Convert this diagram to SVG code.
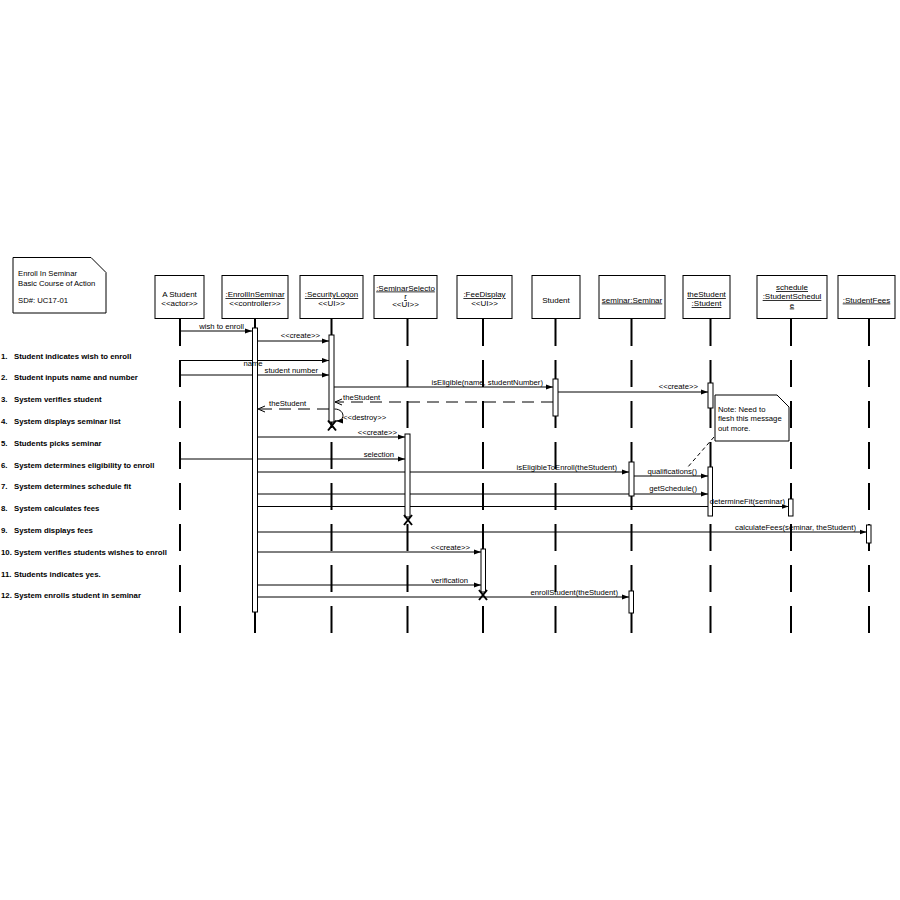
<svg xmlns="http://www.w3.org/2000/svg" width="900" height="900" viewBox="0 0 900 900">
<defs>
<style>
text{font-family:"Liberation Sans",Arial,sans-serif;fill:#000}
.hd{font-size:8px;text-anchor:middle}
.u{text-decoration:underline}
.ml{font-size:7.7px}
.st{font-size:7.8px;font-weight:bold}
.nt{font-size:7.7px}
.box{fill:#fff;stroke:#000;stroke-width:1}
.life{stroke:#000;stroke-width:2;stroke-dasharray:27 14;fill:none}
.act{fill:#fff;stroke:#000;stroke-width:1}
.msg{stroke:#000;stroke-width:1;fill:none;marker-end:url(#arr)}
.ret{stroke:#000;stroke-width:1;fill:none;stroke-dasharray:12 7;marker-end:url(#open)}
.xm{stroke:#000;stroke-width:2}
</style>
<marker id="arr" markerWidth="8" markerHeight="6" refX="7" refY="3" orient="auto" markerUnits="userSpaceOnUse"><path d="M0,0.5 L7,3 L0,5.5 z" fill="#000"/></marker>
<marker id="open" markerWidth="9" markerHeight="8" refX="7" refY="4" orient="auto" markerUnits="userSpaceOnUse"><path d="M0,1 L7,4 L0,7" fill="none" stroke="#000" stroke-width="1"/></marker>
</defs>
<rect width="900" height="900" fill="#fff"/>

<g id="note-title">
<path class="box" d="M13,257.5 H91 L106,272.5 V313 H13 Z"/>
<text class="nt" x="18" y="276">Enroll In Seminar</text>
<text class="nt" x="18" y="286">Basic Course of Action</text>
<text class="nt" x="18" y="303">SD#: UC17-01</text>
</g>

<g id="steps">
<text class="st" x="1" y="358.5">1.</text><text class="st" x="14" y="358.5">Student indicates wish to enroll</text>
<text class="st" x="1" y="380.3">2.</text><text class="st" x="14" y="380.3">Student inputs name and number</text>
<text class="st" x="1" y="402.1">3.</text><text class="st" x="14" y="402.1">System verifies student</text>
<text class="st" x="1" y="423.9">4.</text><text class="st" x="14" y="423.9">System displays seminar list</text>
<text class="st" x="1" y="445.7">5.</text><text class="st" x="14" y="445.7">Students picks seminar</text>
<text class="st" x="1" y="467.5">6.</text><text class="st" x="14" y="467.5">System determines eligibility to enroll</text>
<text class="st" x="1" y="489.3">7.</text><text class="st" x="14" y="489.3">System determines schedule fit</text>
<text class="st" x="1" y="511.1">8.</text><text class="st" x="14" y="511.1">System calculates fees</text>
<text class="st" x="1" y="532.9">9.</text><text class="st" x="14" y="532.9">System displays fees</text>
<text class="st" x="1" y="554.7">10.</text><text class="st" x="14" y="554.7">System verifies students wishes to enroll</text>
<text class="st" x="1" y="576.5">11.</text><text class="st" x="14" y="576.5">Students indicates yes.</text>
<text class="st" x="1" y="598.3">12.</text><text class="st" x="14" y="598.3">System enrolls student in seminar</text>
</g>

<g id="lifelines">
<line class="life" x1="180" y1="319" x2="180" y2="637"/>
<line class="life" x1="255" y1="319" x2="255" y2="637"/>
<line class="life" x1="331.5" y1="319" x2="331.5" y2="637"/>
<line class="life" x1="407.5" y1="319" x2="407.5" y2="637"/>
<line class="life" x1="483" y1="319" x2="483" y2="637"/>
<line class="life" x1="555.5" y1="319" x2="555.5" y2="637"/>
<line class="life" x1="631.5" y1="319" x2="631.5" y2="637"/>
<line class="life" x1="710.5" y1="319" x2="710.5" y2="637"/>
<line class="life" x1="791" y1="319" x2="791" y2="637"/>
<line class="life" x1="869" y1="319" x2="869" y2="637"/>
</g>

<g id="obj-astudent">
<rect class="box" x="155" y="275.5" width="49" height="43"/>
<text class="hd" x="179.5" y="297">A Student</text>
<text class="hd" x="179.5" y="306">&lt;&lt;actor&gt;&gt;</text>
</g>
<g id="obj-enroll">
<rect class="box" x="222" y="275.5" width="66" height="43"/>
<text class="hd u" x="255" y="297">:EnrollInSeminar</text>
<text class="hd" x="255" y="306">&lt;&lt;controller&gt;&gt;</text>
</g>
<g id="obj-security">
<rect class="box" x="300" y="275.5" width="63" height="43"/>
<text class="hd u" x="331.5" y="297">:SecurityLogon</text>
<text class="hd" x="331.5" y="306">&lt;&lt;UI&gt;&gt;</text>
</g>
<g id="obj-semsel">
<rect class="box" x="374" y="275.5" width="63" height="43"/>
<text class="hd u" x="405.5" y="290.5">:SeminarSelecto</text>
<text class="hd u" x="405.5" y="299">r</text>
<text class="hd" x="405.5" y="307">&lt;&lt;UI&gt;&gt;</text>
</g>
<g id="obj-fee">
<rect class="box" x="457" y="275.5" width="55" height="43"/>
<text class="hd u" x="484.5" y="297">:FeeDisplay</text>
<text class="hd" x="484.5" y="306">&lt;&lt;UI&gt;&gt;</text>
</g>
<g id="obj-student">
<rect class="box" x="532" y="275.5" width="48" height="43"/>
<text class="hd" x="556" y="302.5">Student</text>
</g>
<g id="obj-seminar">
<rect class="box" x="599" y="275.5" width="66" height="43"/>
<text class="hd u" x="632" y="302.5">seminar:Seminar</text>
</g>
<g id="obj-thestudent">
<rect class="box" x="683" y="275.5" width="47" height="43"/>
<text class="hd u" x="706.5" y="297">theStudent</text>
<text class="hd u" x="706.5" y="306">:Student</text>
</g>
<g id="obj-schedule">
<rect class="box" x="757" y="275.5" width="70" height="43"/>
<text class="hd u" x="792" y="290">schedule</text>
<text class="hd u" x="792" y="299">:StudentSchedul</text>
<text class="hd u" x="792" y="307.5">e</text>
</g>
<g id="obj-fees">
<rect class="box" x="838" y="275.5" width="57" height="43"/>
<text class="hd u" x="866.5" y="302.5">:StudentFees</text>
</g>

<g id="connectors">
<line class="msg" x1="180" y1="331" x2="252" y2="331"/>
<text class="ml" x="244" y="329" text-anchor="end">wish to enroll</text>
<line class="msg" x1="258" y1="341" x2="329" y2="341"/>
<text class="ml" x="320" y="338" text-anchor="end">&lt;&lt;create&gt;&gt;</text>
<line class="msg" x1="180" y1="360.5" x2="329" y2="360.5"/>
<line class="msg" x1="180" y1="375" x2="329" y2="375"/>
<text class="ml" x="318" y="373" text-anchor="end">student number</text>
<line class="msg" x1="334" y1="387" x2="553" y2="387"/>
<text class="ml" x="543" y="384.5" text-anchor="end">isEligible(name, studentNumber)</text>
<line class="msg" x1="558" y1="392" x2="708" y2="392"/>
<text class="ml" x="698" y="389" text-anchor="end">&lt;&lt;create&gt;&gt;</text>
<line class="ret" x1="553" y1="402" x2="335" y2="402"/>
<text class="ml" x="343" y="400">theStudent</text>
<line class="ret" x1="329" y1="409" x2="258" y2="409"/>
<text class="ml" x="269" y="405.5">theStudent</text>
<path class="msg" d="M334.5,409 C345,409 346,421 336,421"/>
<text class="ml" x="343" y="420">&lt;&lt;destroy&gt;&gt;</text>
<line class="msg" x1="258" y1="437" x2="405" y2="437"/>
<text class="ml" x="397" y="435" text-anchor="end">&lt;&lt;create&gt;&gt;</text>
<line class="msg" x1="180" y1="459" x2="405" y2="459"/>
<text class="ml" x="394" y="457" text-anchor="end">selection</text>
<line class="msg" x1="258" y1="472" x2="629" y2="472"/>
<text class="ml" x="617" y="469.5" text-anchor="end">isEligibleToEnroll(theStudent)</text>
<line class="msg" x1="634" y1="476" x2="708" y2="476"/>
<text class="ml" x="697" y="473.5" text-anchor="end">qualifications()</text>
<line class="msg" x1="258" y1="494" x2="708" y2="494"/>
<text class="ml" x="697" y="491" text-anchor="end">getSchedule()</text>
<line class="msg" x1="258" y1="506.5" x2="788.5" y2="506.5"/>
<line class="msg" x1="258" y1="532" x2="866.5" y2="532"/>
<text class="ml" x="856" y="529.5" text-anchor="end">calculateFees(seminar, theStudent)</text>
<line class="msg" x1="258" y1="552" x2="481" y2="552"/>
<text class="ml" x="470" y="549.5" text-anchor="end">&lt;&lt;create&gt;&gt;</text>
<line class="msg" x1="258" y1="585" x2="481" y2="585"/>
<text class="ml" x="468" y="583" text-anchor="end">verification</text>
<line class="msg" x1="258" y1="597" x2="629" y2="597"/>
<text class="ml" x="618" y="594.5" text-anchor="end">enrollStudent(theStudent)</text>
<line x1="714" y1="437" x2="687" y2="468" stroke="#000" stroke-width="1" stroke-dasharray="4 3"/>
</g>

<g id="activations">
<rect class="act" x="252.5" y="328" width="5" height="284"/>
<rect class="act" x="329" y="335" width="5" height="87"/>
<rect class="act" x="553" y="379" width="5" height="37"/>
<rect class="act" x="708" y="383" width="5" height="25"/>
<rect class="act" x="405" y="434" width="5" height="83"/>
<rect class="act" x="629" y="462" width="5" height="34"/>
<rect class="act" x="708" y="467" width="4.5" height="49"/>
<rect class="act" x="788.5" y="499" width="4.5" height="17"/>
<rect class="act" x="866.5" y="525" width="4.5" height="18"/>
<rect class="act" x="481" y="549" width="4.5" height="43"/>
<rect class="act" x="629" y="591" width="4.5" height="22"/>
</g>

<g id="labels-over">
<text class="ml" x="253" y="366" text-anchor="middle">name</text>
<text class="ml" x="785" y="504" text-anchor="end">determineFit(seminar)</text>
</g>

<g id="destroy-marks">
<path class="xm" d="M328,420.5 L336,430.5 M336,420.5 L328,430.5"/>
<path class="xm" d="M404,515 L412,525 M412,515 L404,525"/>
<path class="xm" d="M479,590 L487,600 M487,590 L479,600"/>
</g>

<g id="note-flesh">
<path class="box" d="M715,395 H777 L789,407 V441 H715 Z"/>
<text class="nt" x="718" y="411.5">Note: Need to</text>
<text class="nt" x="718" y="421">flesh this message</text>
<text class="nt" x="718" y="430.5">out more.</text>
</g>
</svg>
